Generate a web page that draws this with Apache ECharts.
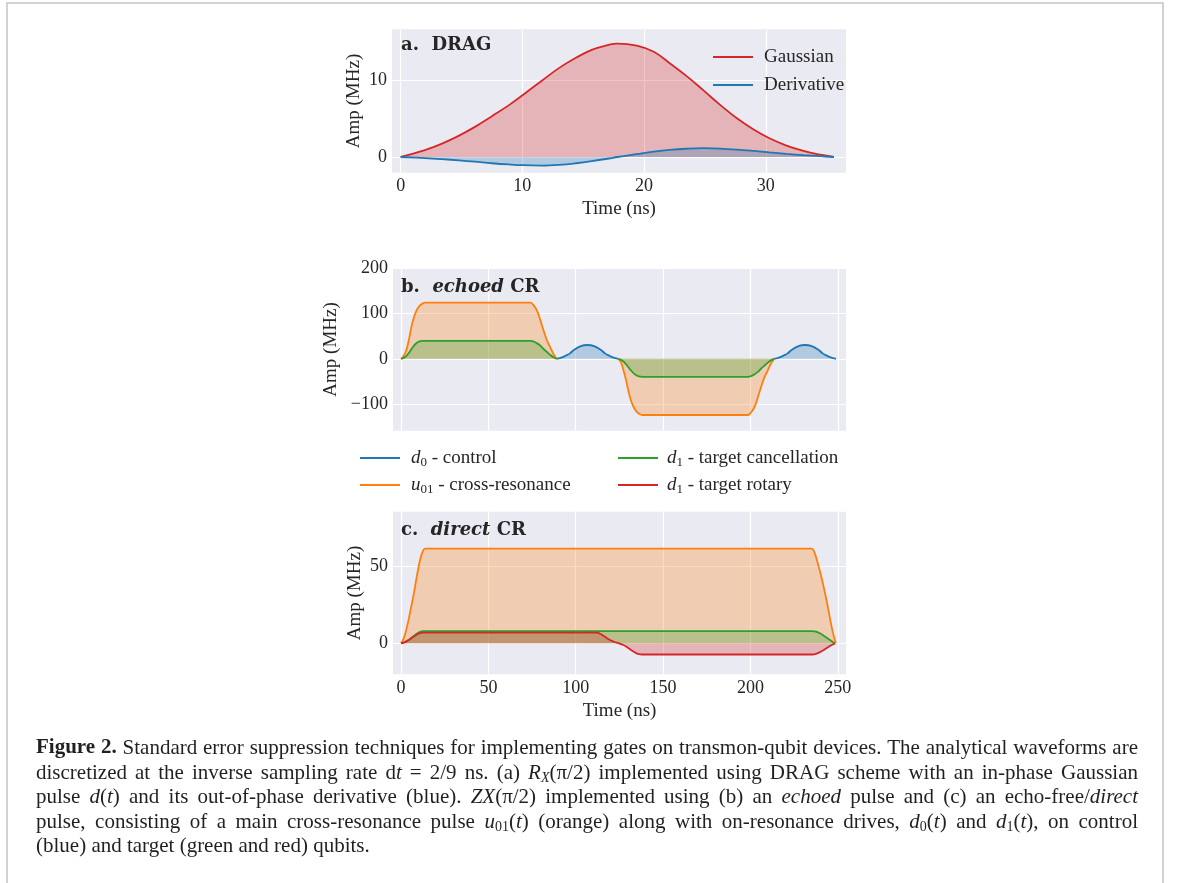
<!DOCTYPE html>
<html><head><meta charset="utf-8">
<script src="https://cdn.jsdelivr.net/npm/echarts@6/dist/echarts.min.js"></script>
<style>html,body{margin:0;padding:0;background:#fff}#c{width:1181px;height:883px}</style>
</head><body><div id="c"></div><script>
// ---------- data ----------
// (a) DRAG
const dragTime = [0, 2, 3.4, 4.8, 6.1, 7.5, 8.9, 10.1, 11.6, 13, 14.4, 15.7, 17.1, 17.8, 19.4, 20.8, 22.1, 23.5, 24.9, 26.2, 27.6, 29, 30.3, 31.7, 33.1, 34.5, 35.6];
const dragGaussian = [0, 0.9, 1.75, 2.8, 3.95, 5.35, 6.8, 8.2, 10.0, 11.65, 13.0, 14.05, 14.7, 14.87, 14.6, 13.8, 12.3, 10.6, 8.7, 6.9, 5.1, 3.6, 2.45, 1.5, 0.8, 0.3, 0];
const dragDerivative = [0, -0.14, -0.28, -0.45, -0.62, -0.82, -0.98, -1.08, -1.12, -1.03, -0.82, -0.55, -0.2, 0, 0.38, 0.7, 0.93, 1.08, 1.15, 1.1, 0.97, 0.79, 0.6, 0.41, 0.24, 0.1, 0];

// (b) echoed CR
const echoedCR1Time = [0, 1.5, 3, 4.5, 5.9, 7.4, 8.9, 10.4, 11.9, 13.8, 74, 75.7, 77.7, 79.6, 81.5, 83.4, 85.3, 87.2, 89.1];
const echoedU01CR1 = [0, 6, 19, 42, 70, 92, 107, 116, 121, 124, 124, 119, 107.5, 87, 63.4, 42, 26.5, 11, 0];
const echoedD1CR1 = [0, 2, 6, 13, 21, 29, 35, 38, 39.5, 39.7, 39.7, 38.5, 34.5, 29.5, 22, 15.5, 9, 3.5, 0];
const echoedCR2Time = [124.4, 125.9, 127.3, 128.8, 130.2, 131.7, 133.2, 134.7, 136.2, 138.1, 198.5, 200.2, 202.2, 204.1, 206, 207.9, 209.8, 211.7, 213.6];
const echoedU01CR2 = [0, -8, -25, -47, -72, -93, -107, -116, -121, -124, -124, -119, -107.5, -87, -63.4, -42, -26.5, -11, 0];
const echoedD1CR2 = [0, -2, -6, -12, -19, -26, -32, -36.5, -39, -39.7, -39.7, -38.5, -34.5, -29.5, -22, -15.5, -9, -3.5, 0];
const echoedX1Time = [89.1, 90.9, 92.9, 94.5, 96.7, 98.9, 102.9, 106.7, 110.5, 114.5, 116.7, 118.9, 120.5, 122.5, 124.3];
const echoedD0X1 = [0, 1.5, 4.4, 7.4, 12, 19.2, 28, 30.5, 28, 19.2, 12, 7.4, 4.4, 1.5, 0];
const echoedX2Time = [213.6, 215.5, 217.5, 219.1, 221.3, 223.5, 227.5, 231.3, 235.1, 239.1, 241.3, 243.5, 245.1, 247.1, 249];
const echoedD0X2 = [0, 1.5, 4.4, 7.4, 12, 19.2, 28, 30.5, 28, 19.2, 12, 7.4, 4.4, 1.5, 0];

// (c) direct CR
const directU01Time = [0, 1.5, 3.2, 5, 7.1, 9, 10.9, 12.5, 13.7, 235.1, 236.5, 238, 239.9, 241.8, 243.7, 245.2, 246.6, 248, 248.9];
const directU01 = [0, 3, 9.7, 19, 31, 43, 54, 59.5, 61.2, 61.2, 59, 54, 46, 37, 27, 18, 10, 3.5, 0];
const directD1CancelTime = [0, 2, 4, 6, 8, 10, 12.6, 235.6, 237.5, 240, 242, 244, 246, 248];
const directD1Cancel = [0, 0.7, 2, 3.7, 5.4, 6.9, 7.9, 7.9, 7.5, 6.3, 4.9, 3.4, 1.8, 0];
const directD1RotaryTime = [0, 2, 4, 6, 8, 10, 12.6, 112, 113.9, 115.8, 117.7, 119.6, 121.5, 123.5, 125.4, 127.3, 129.2, 131.1, 133, 134.9, 136.3, 137.8, 235.6, 237.5, 240, 242, 244, 246, 248.5];
const directD1Rotary = [0, 0.6, 1.8, 3.3, 4.9, 6.2, 6.9, 6.9, 6.2, 4.9, 3.5, 2.1, 1.2, 0.4, -0.3, -1.1, -2.4, -3.9, -5.3, -6.5, -7, -7.2, -7.2, -6.8, -5.6, -4.3, -2.9, -1.4, 0];

// tick values
const ticksXa = [0, 10, 20, 30];
const ticksYa = [0, 10];
const ticksXbc = [0, 50, 100, 150, 200, 250];
const ticksYb = [-100, 0, 100, 200];
const ticksYc = [0, 50];

// ---------- styling ----------
const COL = {blue:'#1f77b4', orange:'#ff7f0e', green:'#2ca02c', red:'#d62728'};
const FILL = {blue:'rgba(31,119,180,0.4)', orange:'rgba(255,127,14,0.4)', green:'rgba(44,160,44,0.4)', red:'rgba(214,39,40,0.4)'};
const TXT = '#262626';
const FAM = 'Liberation Serif';
const SERIF = "'Liberation Serif', 'DejaVu Serif', serif";
const BOLDSERIF = "'DejaVu Serif', serif";

const zip = (t, v) => t.map((x, i) => [x, v[i]]);
function ser(name, g, t, v, col) {
  return {name, type:'line', xAxisIndex:g, yAxisIndex:g, data:zip(t, v), smooth:0.4,
    symbol:'none', showSymbol:false, color:COL[col], itemStyle:{color:COL[col]},
    lineStyle:{width:1.8, color:COL[col]}, areaStyle:{color:FILL[col], origin:'auto'},
    emphasis:{disabled:true}, silent:true};
}
const fmt = v => v < 0 ? '\u2212' + (-v) : String(v);
function xAx(g, min, max, ticks, labels, name) {
  return {gridIndex:g, type:'value', min, max,
    axisLine:{show:false}, axisTick:{show:false, customValues:ticks},
    axisLabel:{show:labels, customValues:ticks, formatter:fmt, fontFamily:SERIF, fontSize:18, color:TXT, margin:5},
    splitLine:{show:true, lineStyle:{color:'#ffffff', width:1.2}},
    name:name || '', nameLocation:'middle', nameGap:27,
    nameTextStyle:{fontFamily:SERIF, fontSize:19, color:TXT}};
}
function yAx(g, min, max, ticks, gap) {
  return {gridIndex:g, type:'value', min, max,
    axisLine:{show:false}, axisTick:{show:false, customValues:ticks},
    axisLabel:{customValues:ticks, formatter:fmt, fontFamily:SERIF, fontSize:18, color:TXT, margin:5, padding:[7,0,0,0]},
    splitLine:{show:true, lineStyle:{color:'#ffffff', width:1.2}},
    name:'Amp (MHz)', nameLocation:'middle', nameRotate:90, nameGap:gap,
    nameTextStyle:{fontFamily:SERIF, fontSize:19, color:TXT}};
}
const gridBase = {show:true, backgroundColor:'#eaeaf2', borderWidth:0, containLabel:false, outerBoundsMode:'none'};

const legendRich = {
  i:{fontStyle:'italic', fontFamily:SERIF, fontSize:19, color:TXT, lineHeight:22},
  s:{fontFamily:SERIF, fontSize:13, color:TXT, verticalAlign:'bottom', lineHeight:22},
  n:{fontFamily:SERIF, fontSize:19, color:TXT, lineHeight:22}
};
const legendNames = {
  'Gaussian':'{n|Gaussian}', 'Derivative':'{n|Derivative}',
  'd0 - control':'{i|d}{s|0}{n| - control}',
  'u01 - cross-resonance':'{i|u}{s|01}{n| - cross-resonance}',
  'd1 - target cancellation':'{i|d}{s|1}{n| - target cancellation}',
  'd1 - target rotary':'{i|d}{s|1}{n| - target rotary}'
};
function leg(data, left, top, gap, pad) {
  return {data, orient:'vertical', left, top, itemWidth:40, itemHeight:2, itemGap:gap, icon:'rect',
    selectedMode:false, formatter:n => legendNames[n],
    textStyle:{fontFamily:SERIF, fontSize:19, color:TXT, lineHeight:22, padding:[0,0,0,pad], rich:legendRich}};
}

// ---------- caption (justified) ----------
const captionLines = [
  [['f','Figure 2.'],['n',' Standard error suppression techniques for implementing gates on transmon-qubit devices. The analytical waveforms are']],
  [['n','discretized at the inverse sampling rate d'],['i','t'],['n',' = 2/9 ns. (a) '],['i','R'],['si','X'],['n','(\u03c0/2) implemented using DRAG scheme with an in-phase Gaussian']],
  [['n','pulse '],['i','d'],['n','('],['i','t'],['n',') and its out-of-phase derivative (blue). '],['i','ZX'],['n','(\u03c0/2) implemented using (b) an '],['i','echoed'],['n',' pulse and (c) an echo-free/'],['i','direct']],
  [['n','pulse, consisting of a main cross-resonance pulse '],['i','u'],['s','01'],['n','('],['i','t'],['n',') (orange) along with on-resonance drives, '],['i','d'],['s','0'],['n','('],['i','t'],['n',') and '],['i','d'],['s','1'],['n','('],['i','t'],['n','), on control']],
  [['n','(blue) and target (green and red) qubits.']]
];
const capY = [748, 773, 797, 822, 846];
const CAP_X = 36, CAP_W = 1102, CAP_FS = 21, CAP_SUB = 14;
const capStyle = {
  n:{size:CAP_FS, italic:false, bold:false},
  i:{size:CAP_FS, italic:true, bold:false},
  f:{size:CAP_FS, italic:false, bold:true},
  s:{size:CAP_SUB, italic:false, bold:false, sub:true},
  si:{size:CAP_SUB, italic:true, bold:false, sub:true}
};
const capRich = {};
Object.keys(capStyle).forEach(k => {
  const s = capStyle[k];
  capRich[k] = {fontFamily:SERIF, fontSize:s.size, fontStyle:s.italic ? 'italic' : 'normal',
    fontWeight:s.bold ? 'bold' : 'normal', fill:'#231f20', lineHeight:24};
  if (s.sub) capRich[k].verticalAlign = 'bottom';
});
const measCtx = document.createElement('canvas').getContext('2d');
function segWidth(s, t) {
  const st = capStyle[s];
  measCtx.font = (st.italic ? 'italic ' : '') + (st.bold ? 'bold ' : '') + st.size + 'px "' + FAM + '"';
  return measCtx.measureText(t).width;
}
const captionGraphics = [];
captionLines.forEach((ln, k) => {
  const words = [[]];
  ln.forEach(([s, t]) => {
    t.split(' ').forEach((p, idx) => {
      if (idx > 0) words.push([]);
      if (p) words[words.length - 1].push([s, p]);
    });
  });
  const ws = words.filter(w => w.length);
  const widths = ws.map(w => w.reduce((a, [s, t]) => a + segWidth(s, t), 0));
  const total = widths.reduce((a, b) => a + b, 0);
  const last = k === captionLines.length - 1;
  const gap = last ? segWidth('n', ' ') : (CAP_W - total) / (ws.length - 1);
  let x = CAP_X;
  ws.forEach((w, j) => {
    captionGraphics.push({type:'text', x, y:capY[k], silent:true,
      style:{text:w.map(([s, t]) => '{' + s + '|' + t + '}').join(''), rich:capRich, verticalAlign:'middle', align:'left'}});
    x += widths[j] + gap;
  });
});

const titleRich = {
  b:{fontFamily:BOLDSERIF, fontSize:18, fontWeight:'bold', fill:'#262626'},
  bi:{fontFamily:BOLDSERIF, fontSize:18, fontWeight:'bold', fontStyle:'italic', fill:'#262626'}
};
function title(text, y) {
  return {type:'text', x:401, y, silent:true, z:10, style:{text, rich:titleRich, verticalAlign:'middle'}};
}

const option = {
  animation:false,
  grid:[
    Object.assign({left:392, top:29.3, width:454, height:143.4}, gridBase),
    Object.assign({left:393, top:268.2, width:453, height:162.5}, gridBase),
    Object.assign({left:393, top:511.7, width:453, height:162.6}, gridBase)
  ],
  xAxis:[
    xAx(0, -0.71, 36.59, ticksXa, true, 'Time (ns)'),
    xAx(1, -4.6, 254.7, ticksXbc, false, ''),
    xAx(2, -4.6, 254.7, ticksXbc, true, 'Time (ns)')
  ],
  yAxis:[
    yAx(0, -2.06, 16.74, ticksYa, 28),
    yAx(1, -158.7, 200, ticksYb, 52),
    yAx(2, -20, 85, ticksYc, 28)
  ],
  legend:[
    leg(['Gaussian', 'Derivative'], 708, 41, 6, 6),
    leg(['d0 - control', 'u01 - cross-resonance'], 355, 442, 5, 6),
    leg(['d1 - target cancellation', 'd1 - target rotary'], 613, 442, 5, 4)
  ],
  series:[
    ser('Gaussian', 0, dragTime, dragGaussian, 'red'),
    ser('Derivative', 0, dragTime, dragDerivative, 'blue'),
    ser('d0 - control', 1, echoedX1Time, echoedD0X1, 'blue'),
    ser('d0 - control', 1, echoedX2Time, echoedD0X2, 'blue'),
    ser('u01 - cross-resonance', 1, echoedCR1Time, echoedU01CR1, 'orange'),
    ser('u01 - cross-resonance', 1, echoedCR2Time, echoedU01CR2, 'orange'),
    ser('d1 - target cancellation', 1, echoedCR1Time, echoedD1CR1, 'green'),
    ser('d1 - target cancellation', 1, echoedCR2Time, echoedD1CR2, 'green'),
    ser('u01 - cross-resonance', 2, directU01Time, directU01, 'orange'),
    ser('d1 - target cancellation', 2, directD1CancelTime, directD1Cancel, 'green'),
    ser('d1 - target rotary', 2, directD1RotaryTime, directD1Rotary, 'red')
  ],
  graphic:[
    {type:'rect', silent:true, shape:{x:7, y:3, width:1156, height:900}, style:{fill:'none', stroke:'#c4c4c4', lineWidth:1.5}},
    title('{b|a.  DRAG}', 45),
    title('{b|b.  }{bi|echoed}{b| CR}', 287),
    title('{b|c.  }{bi|direct}{b| CR}', 530)
  ].concat(captionGraphics)
};
const chart = echarts.init(document.getElementById('c'), null, {renderer:'canvas'});
chart.setOption(option);
</script></body></html>
